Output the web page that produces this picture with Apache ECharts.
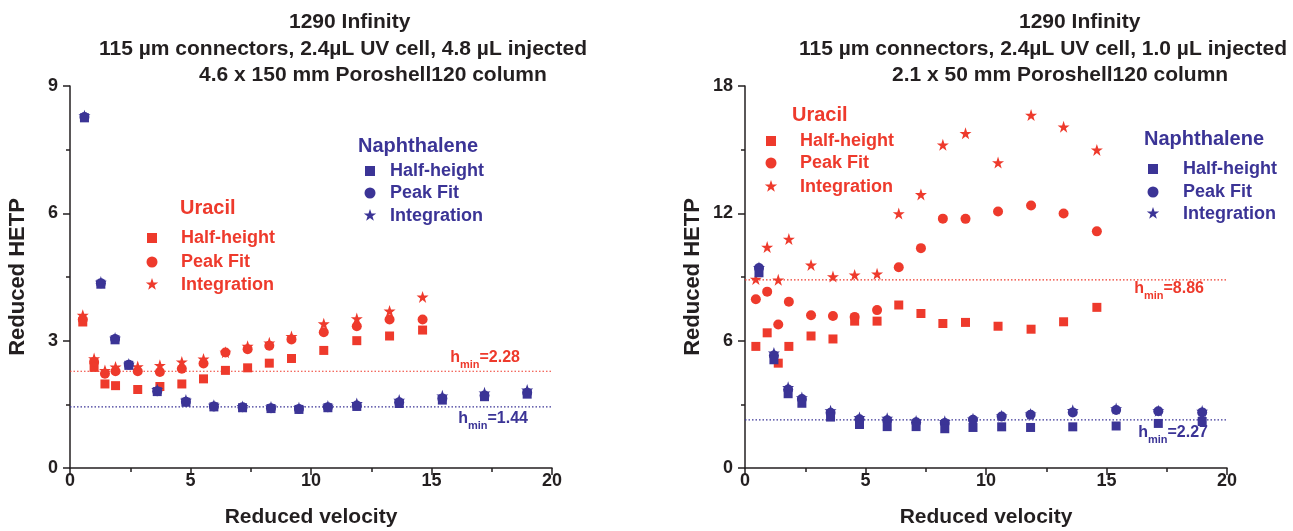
<!DOCTYPE html>
<html><head><meta charset="utf-8">
<script src="https://cdn.jsdelivr.net/npm/echarts@6/dist/echarts.min.js"></script>
<style>html,body{margin:0;padding:0;background:#fff}#c{width:1293px;height:531px}</style>
</head><body><div id="c"></div><script>
// ---------- data ----------
// Left panel: 4.6 x 150 mm column
const leftUracilVel = [0.53,1.0,1.45,1.89,2.81,3.73,4.64,5.54,6.45,7.37,8.27,9.19,10.53,11.9,13.26,14.63];
const leftUracilHalf = [3.44,2.37,1.98,1.94,1.85,1.92,1.98,2.1,2.3,2.36,2.47,2.58,2.77,3.0,3.11,3.25];
const leftUracilPeak = [3.5,2.5,2.22,2.28,2.28,2.26,2.34,2.46,2.72,2.8,2.88,3.03,3.2,3.34,3.5,3.5];
const leftUracilInteg = [3.6,2.58,2.3,2.38,2.39,2.42,2.5,2.57,2.73,2.87,2.95,3.1,3.4,3.52,3.7,4.03];
const leftNaphVel = [0.6,1.28,1.87,2.44,3.62,4.81,5.97,7.16,8.34,9.5,10.7,11.9,13.66,15.45,17.2,18.97];
const leftNaphHalf = [8.25,4.33,3.02,2.42,1.8,1.55,1.44,1.42,1.4,1.38,1.42,1.45,1.52,1.6,1.68,1.74];
const leftNaphPeak = [8.27,4.35,3.04,2.43,1.81,1.56,1.45,1.43,1.41,1.39,1.43,1.47,1.55,1.64,1.71,1.77];
const leftNaphInteg = [8.3,4.38,3.06,2.45,1.85,1.6,1.48,1.45,1.44,1.42,1.46,1.52,1.6,1.7,1.77,1.84];
const leftHminUracil = 2.28;
const leftHminNaph = 1.44;

// Right panel: 2.1 x 50 mm column
const rightUracilVel = [0.45,0.92,1.38,1.82,2.74,3.65,4.55,5.48,6.38,7.3,8.21,9.15,10.5,11.87,13.22,14.6];
const rightUracilHalf = [5.73,6.37,4.94,5.73,6.22,6.08,6.92,6.92,7.68,7.28,6.81,6.86,6.68,6.54,6.89,7.57];
const rightUracilPeak = [7.95,8.31,6.76,7.83,7.2,7.16,7.12,7.44,9.46,10.36,11.75,11.74,12.09,12.37,11.99,11.15];
const rightUracilInteg = [8.9,10.41,8.87,10.79,9.57,9.02,9.1,9.15,11.99,12.89,15.23,15.77,14.39,16.63,16.08,14.99];
const rightNaphVel = [0.58,1.2,1.79,2.36,3.55,4.75,5.9,7.1,8.29,9.46,10.65,11.85,13.6,15.4,17.15,18.97];
const rightNaphHalf = [9.2,5.1,3.5,3.05,2.4,2.05,1.95,1.95,1.85,1.91,1.94,1.91,1.94,1.98,2.1,2.19];
const rightNaphPeak = [9.42,5.3,3.7,3.25,2.6,2.3,2.25,2.15,2.12,2.27,2.43,2.51,2.62,2.73,2.67,2.62];
const rightNaphInteg = [9.45,5.42,3.8,3.32,2.7,2.38,2.35,2.22,2.2,2.32,2.46,2.55,2.72,2.8,2.7,2.68];
const rightHminUracil = 8.86;
const rightHminNaph = 2.27;

const xMin = 0, xMax = 20, xStep = 5;
const leftYMax = 9, leftYStep = 3;
const rightYMax = 18, rightYStep = 6;

const leftTitle = ['1290 Infinity', '115 µm connectors, 2.4µL UV cell, 4.8 µL injected', '4.6 x 150 mm Poroshell120 column'];
const rightTitle = ['1290 Infinity', '115 µm connectors, 2.4µL UV cell, 1.0 µL injected', '2.1 x 50 mm Poroshell120 column'];
const legendNames = ['Half-height', 'Peak Fit', 'Integration'];
const groupNames = ['Uracil', 'Naphthalene'];

// ---------- styles ----------
const FONT = '"Liberation Sans", Arial, Helvetica, sans-serif';
const RED = '#ee3a2c';
const BLUE = '#3b3496';
const INK = '#231f20';
const STAR = 'path://M50,0 L61.8,35.1 L98.1,35.1 L68.7,56.7 L79.4,90.9 L50,69.1 L20.6,90.9 L31.3,56.7 L1.9,35.1 L38.2,35.1 Z';

function zip(a, b) { return a.map((v, i) => [v, b[i]]); }

function xAxisCfg(gi) {
  return {
    type: 'value', gridIndex: gi, min: xMin, max: xMax, interval: xStep,
    axisLine: { show: true, lineStyle: { color: INK, width: 1.5 } },
    axisTick: { show: true, length: 7, lineStyle: { color: INK, width: 1.5 } },
    minorTick: { show: true, splitNumber: 2, length: 4, lineStyle: { color: INK, width: 1.5 } },
    splitLine: { show: false },
    axisLabel: { fontSize: 18, fontWeight: 'bold', color: INK, margin: 4, fontFamily: FONT },
    name: 'Reduced velocity', nameLocation: 'middle', nameGap: 39,
    nameTextStyle: { fontSize: 21, fontWeight: 'bold', color: INK, fontFamily: FONT }
  };
}
function yAxisCfg(gi, max, step) {
  return {
    type: 'value', gridIndex: gi, min: 0, max: max, interval: step,
    axisLine: { show: true, lineStyle: { color: INK, width: 1.5 } },
    axisTick: { show: true, length: 7, lineStyle: { color: INK, width: 1.5 } },
    minorTick: { show: true, splitNumber: 2, length: 4, lineStyle: { color: INK, width: 1.5 } },
    splitLine: { show: false },
    axisLabel: { fontSize: 18, fontWeight: 'bold', color: INK, margin: 12, fontFamily: FONT },
    name: 'Reduced HETP', nameLocation: 'middle', nameGap: 41,
    nameTextStyle: { fontSize: 22, fontWeight: 'bold', color: INK, fontFamily: FONT }
  };
}

function scatter(gi, vel, vals, color, kind) {
  const sym = kind === 0 ? 'rect' : kind === 1 ? 'circle' : STAR;
  const size = kind === 0 ? 9 : kind === 1 ? 10 : 12;
  return {
    type: 'scatter', xAxisIndex: gi, yAxisIndex: gi,
    data: zip(vel, vals), symbol: sym, symbolSize: size,
    itemStyle: { color: color, opacity: 1 },
    emphasis: { disabled: true }, silent: true, z: 3
  };
}
function hminLine(gi, value, color) {
  return {
    type: 'line', xAxisIndex: gi, yAxisIndex: gi,
    data: [[xMin, value], [xMax, value]],
    showSymbol: false, symbol: 'none', silent: true, z: 2,
    lineStyle: { color: color, type: [1.5, 2], width: 1.2 },
    itemStyle: { color: color },
    emphasis: { disabled: true }
  };
}

// ---------- graphics (titles, legends, hmin labels) ----------
function txt(x, y, text, size, color, align) {
  return { type: 'text', x: x, y: y, silent: true,
    style: { text: text, fontSize: size, fontWeight: 'bold', fill: color, fontFamily: FONT,
      align: align || 'left', verticalAlign: 'middle' } };
}
function starPoints(cx, cy, R) {
  const pts = [];
  for (let i = 0; i < 10; i++) {
    const r = i % 2 === 0 ? R : R * 0.4;
    const a = -Math.PI / 2 + i * Math.PI / 5;
    pts.push([cx + r * Math.cos(a), cy + r * Math.sin(a)]);
  }
  return pts;
}
function legendBlock(hx, hy, mx, tx, ys, color, header) {
  const g = [txt(hx, hy, header, 20, color)];
  g.push({ type: 'rect', silent: true, shape: { x: mx - 5, y: ys[0] - 5, width: 10, height: 10 }, style: { fill: color } });
  g.push({ type: 'circle', silent: true, shape: { cx: mx, cy: ys[1], r: 5.5 }, style: { fill: color } });
  g.push({ type: 'polygon', silent: true, shape: { points: starPoints(mx, ys[2] - 0.5, 6.5) }, style: { fill: color } });
  legendNames.forEach((n, i) => g.push(txt(tx, ys[i], n, 18, color)));
  return g;
}
function hminLabel(xRight, yTop, value, color) {
  return { type: 'text', x: xRight, y: yTop, silent: true,
    style: { text: '{h|h}{s|min}{e|=' + value.toFixed(2) + '}', align: 'right', verticalAlign: 'top',
      fill: color, fontFamily: FONT, fontWeight: 'bold',
      rich: {
        h: { fontSize: 16, fontWeight: 'bold', fill: color, fontFamily: FONT, lineHeight: 24, verticalAlign: 'middle' },
        s: { fontSize: 11, fontWeight: 'bold', fill: color, fontFamily: FONT, lineHeight: 24, verticalAlign: 'bottom' },
        e: { fontSize: 16, fontWeight: 'bold', fill: color, fontFamily: FONT, lineHeight: 24, verticalAlign: 'middle' }
      } } };
}

const graphics = [
  txt(289, 22, leftTitle[0], 21, INK), txt(99, 49, leftTitle[1], 21, INK), txt(199, 75, leftTitle[2], 21, INK),
  txt(1019, 22, rightTitle[0], 21, INK), txt(799, 49, rightTitle[1], 21, INK), txt(892, 75, rightTitle[2], 21, INK),
  ...legendBlock(180, 208, 152, 181, [238, 262, 285], RED, groupNames[0]),
  ...legendBlock(358, 146, 370, 390, [171, 193, 216], BLUE, groupNames[1]),
  ...legendBlock(792, 115, 771, 800, [141, 163, 187], RED, groupNames[0]),
  ...legendBlock(1144, 139, 1153, 1183, [169, 192, 214], BLUE, groupNames[1]),
  hminLabel(520, 346, leftHminUracil, RED),
  hminLabel(528, 407, leftHminNaph, BLUE),
  hminLabel(1204, 277, rightHminUracil, RED),
  hminLabel(1208, 421, rightHminNaph, BLUE)
];

const chart = echarts.init(document.getElementById('c'), null, { renderer: 'canvas' });
chart.setOption({
  animation: false,
  backgroundColor: '#fff',
  grid: [
    { left: 70, right: 741, top: 86, bottom: 63, containLabel: false, outerBoundsMode: 'none' },
    { left: 745, right: 66, top: 86, bottom: 63, containLabel: false, outerBoundsMode: 'none' }
  ],
  xAxis: [xAxisCfg(0), xAxisCfg(1)],
  yAxis: [yAxisCfg(0, leftYMax, leftYStep), yAxisCfg(1, rightYMax, rightYStep)],
  series: [
    hminLine(0, leftHminUracil, RED),
    hminLine(0, leftHminNaph, BLUE),
    hminLine(1, rightHminUracil, RED),
    hminLine(1, rightHminNaph, BLUE),
    scatter(0, leftUracilVel, leftUracilHalf, RED, 0),
    scatter(0, leftUracilVel, leftUracilPeak, RED, 1),
    scatter(0, leftUracilVel, leftUracilInteg, RED, 2),
    scatter(0, leftNaphVel, leftNaphInteg, BLUE, 2),
    scatter(0, leftNaphVel, leftNaphPeak, BLUE, 1),
    scatter(0, leftNaphVel, leftNaphHalf, BLUE, 0),
    scatter(1, rightUracilVel, rightUracilHalf, RED, 0),
    scatter(1, rightUracilVel, rightUracilPeak, RED, 1),
    scatter(1, rightUracilVel, rightUracilInteg, RED, 2),
    scatter(1, rightNaphVel, rightNaphInteg, BLUE, 2),
    scatter(1, rightNaphVel, rightNaphPeak, BLUE, 1),
    scatter(1, rightNaphVel, rightNaphHalf, BLUE, 0)
  ],
  graphic: graphics
});
</script></body></html>
